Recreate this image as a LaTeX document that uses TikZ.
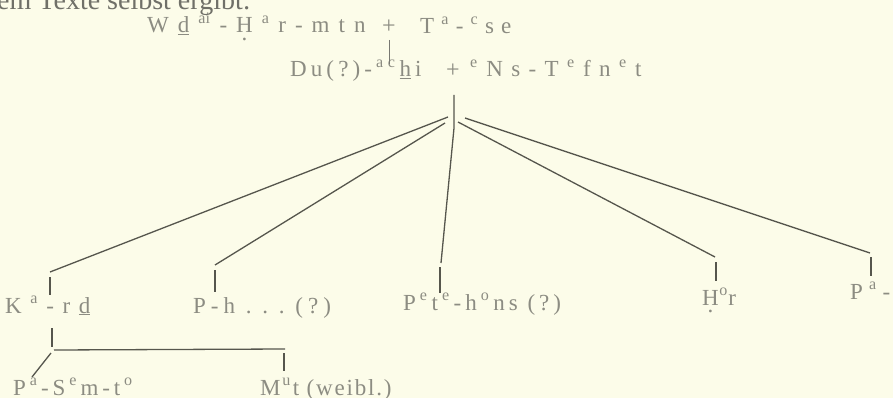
\documentclass[tikz,border=0pt]{standalone}
\usepackage{fontspec}
\setmainfont{Liberation Serif}
\definecolor{paper}{HTML}{FCFCE9}
\definecolor{ink}{HTML}{8C8C82}
\definecolor{stroke}{HTML}{56564D}
\newlength\gapl
\newcommand\gk{\kern\gapl}
\newcommand\sps[1]{\textsuperscript{#1}}
\newcommand\dotu[1]{\ooalign{#1\crcr\hidewidth\lower0.32em\hbox{.}\hidewidth}}
\begin{document}
\begin{tikzpicture}[x=1pt,y=-1pt,
  lbl/.style={inner sep=0pt, anchor=base west, text=ink,
    font=\fontsize{23}{23}\selectfont\setlength\gapl{#1pt}},
  lbl/.default=4,
  hdr/.style={inner sep=0pt, anchor=base west, text=ink!80!black, font=\fontsize{28}{28}\selectfont},
  plus/.style={inner sep=0pt, text=ink, font=\fontsize{24}{24}\selectfont},
  ln/.style={draw=stroke, line width=1.3pt},
  tl/.style={draw=stroke!80, line width=0.9pt}]
\fill[paper] (0,0) rectangle (893,398);
\useasboundingbox (0,0) rectangle (893,398);
% texts
\node[hdr] (hd) at (-3,10) {em Texte selbst ergibt:};
\node[lbl=9] (wh) at (147,33) {W\gk\underline{d}\gk\sps{ai}\gk-\gk\dotu{H}\gk\sps{a}\gk r\gk-\gk m\gk t\gk n};
\node[plus] (p1) at (389,27) {+};
\node[lbl=7] (ta) at (420,34) {T\gk\sps{a}\gk-\gk\sps{c}\gk s\gk e};
\node[lbl=4.1] (du) at (290,77) {D\gk u\gk(\gk?\gk)\gk-\gk\sps{a}\gk\sps{c}\gk\underline{h}\gk i};
\node[plus] (p2) at (453,71) {+};
\node[lbl=8.4] (ns) at (470,77) {\sps{e}\gk N\gk s\gk-\gk T\gk\sps{e}\gk f\gk n\gk\sps{e}\gk t};
\node[lbl=8.5] (kard) at (5,313) {K\gk\sps{a}\gk-\gk r\gk\underline{d}};
\node[lbl=5] (ph) at (193,313) {P\gk-\gk h\gk\ .\gk\ .\gk\ .\gk\ (\gk?\gk)};
\node[lbl=4] (pete) at (403,310) {P\gk\sps{e}\gk t\gk\sps{e}\gk-\gk h\gk\sps{o}\gk n\gk s\gk\ (\gk?\gk)};
\node[lbl=0.5] (hor) at (702,305) {\dotu{H}\gk\sps{o}\gk r};
\node[lbl=6] (pa) at (850,299) {P\gk\sps{a}\gk-};
\node[lbl=3.8] (pasem) at (13,395) {P\gk\sps{a}\gk-\gk S\gk\sps{e}\gk m\gk-\gk t\gk\sps{o}};
\node[lbl=1.8] (mut) at (260,395) {M\gk\sps{u}\gk t\gk\ (\gk w\gk e\gk i\gk b\gk l\gk.\gk)};
% coordinates
\coordinate (v1a) at (389,40); \coordinate (v1b) at (389,64);
\coordinate (c0) at (454,95); \coordinate (c1) at (454,128);
\coordinate (bk) at (448,117); \coordinate (bp) at (445,123);
\coordinate (bh) at (458,122); \coordinate (ba) at (465,118);
\coordinate (ek) at (50,272); \coordinate (ep) at (215,265);
\coordinate (ec) at (441,263); \coordinate (eh) at (715,257);
\coordinate (ea) at (870,253);
\coordinate (k1) at (50,277); \coordinate (k2) at (50,295);
\coordinate (q1) at (215,270); \coordinate (q2) at (215,292);
\coordinate (r1) at (440,267); \coordinate (r2) at (440,293);
\coordinate (h1) at (716,262); \coordinate (h2) at (716,281);
\coordinate (a1) at (871,257); \coordinate (a2) at (871,276);
\coordinate (kd1) at (52,328); \coordinate (kd2) at (52,347);
\coordinate (hz1) at (54,350); \coordinate (hz2) at (285,349);
\coordinate (m1) at (284,353); \coordinate (m2) at (284,371);
\coordinate (s1) at (51,353); \coordinate (s2) at (32,377);
% connectors
\draw[tl] (v1a) -- (v1b);
\draw[ln] (c0) -- (c1) -- (ec);
\draw[ln] (bk) -- (ek);
\draw[ln] (bp) -- (ep);
\draw[ln] (bh) -- (eh);
\draw[ln] (ba) -- (ea);
\draw[ln] (k1) -- (k2);
\draw[ln] (q1) -- (q2);
\draw[ln] (r1) -- (r2);
\draw[ln] (h1) -- (h2);
\draw[ln] (a1) -- (a2);
\draw[ln] (kd1) -- (kd2);
\draw[ln] (hz1) -- (hz2);
\draw[ln] (m1) -- (m2);
\draw[ln] (s1) -- (s2);
\end{tikzpicture}
\end{document}
